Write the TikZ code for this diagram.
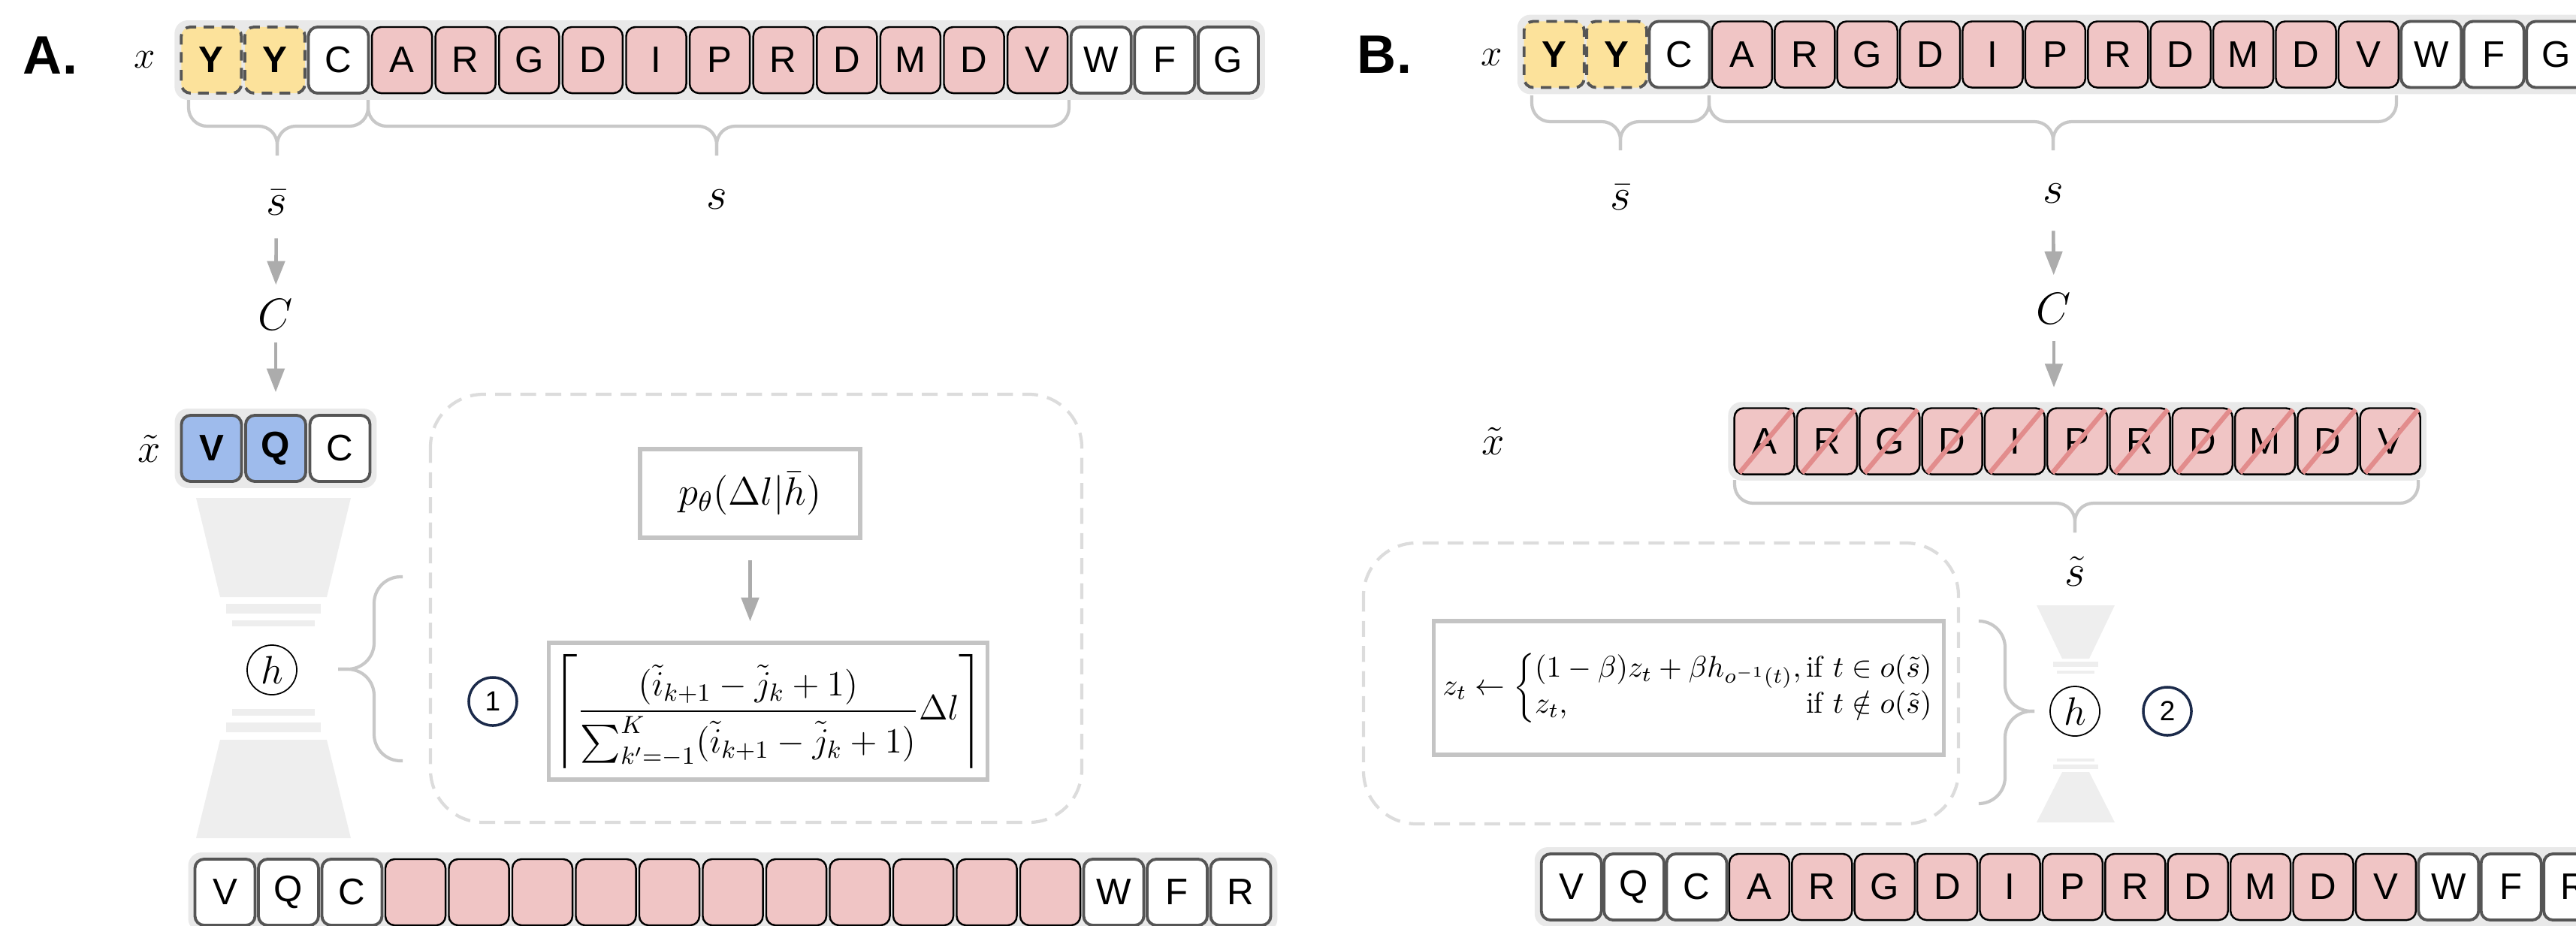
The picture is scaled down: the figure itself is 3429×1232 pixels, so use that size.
\RequirePackage{fix-cm}
\documentclass[tikz,border=0pt]{standalone}
\usepackage{amsmath}
\usepackage{fontspec}
\newfontfamily\tokfont{Liberation Sans}
\usetikzlibrary{arrows.meta,fit,backgrounds,calc}

\definecolor{pinkf}{RGB}{240,197,197}
\definecolor{yellowf}{RGB}{252,226,155}
\definecolor{bluef}{RGB}{158,187,236}
\definecolor{rowgray}{RGB}{233,233,233}
\definecolor{hggray}{RGB}{238,238,238}
\definecolor{bracegray}{RGB}{200,200,200}
\definecolor{arrgray}{RGB}{172,172,172}
\definecolor{dashgray}{RGB}{220,220,220}
\definecolor{fgray}{RGB}{196,196,196}
\definecolor{boxgray}{RGB}{85,85,85}
\definecolor{navy}{RGB}{27,42,74}
\definecolor{slashred}{RGB}{226,140,140}

% horizontal brace opening upwards: xL xR xTip yTop yMid yTip
\newcommand{\bracedown}[6]{%
  \draw[brc] (#1,#4) -- (#1,#5) -- (#3,#5) -- (#3,#6);
  \draw[brc] (#2,#4) -- (#2,#5) -- (#3,#5) -- (#3,#6);}
% vertical brace: xEnds xSpine xTip yTop yBottom yTip
\newcommand{\braceside}[6]{%
  \draw[brcv] (#1,#4) -- (#2,#4) -- (#2,#6) -- (#3,#6);
  \draw[brcv] (#1,#5) -- (#2,#5) -- (#2,#6) -- (#3,#6);}

\begin{document}
\begin{tikzpicture}[x=0.01cm, y=-0.01cm,
  tok/.style={rectangle, rounded corners=3.5pt, minimum width=0.8cm, minimum height=0.88cm, inner sep=0pt, font=\tokfont\fontsize{14}{16}\selectfont},
  wht/.style={tok, draw=boxgray, line width=1.1pt, fill=white},
  pnk/.style={tok, draw=black, line width=0.7pt, fill=pinkf},
  yel/.style={tok, draw=boxgray, line width=1.1pt, dash pattern=on 4pt off 2.8pt, fill=yellowf, font=\tokfont\bfseries\fontsize{14}{16}\selectfont},
  blu/.style={tok, draw=boxgray, line width=1.1pt, fill=bluef, font=\tokfont\bfseries\fontsize{14}{16}\selectfont},
  rowbg/.style={fill=rowgray, rounded corners=5pt, inner sep=0.07cm},
  lbl/.style={inner sep=0pt, font=\fontsize{17}{20}\selectfont},
  xlbl/.style={inner sep=0pt, font=\fontsize{14.5}{17}\selectfont},
  panel/.style={inner sep=0pt, anchor=base, font=\tokfont\bfseries\fontsize{20.5}{24}\selectfont},
  brc/.style={draw=bracegray, line width=1.2pt, rounded corners=7pt},
  brcv/.style={draw=bracegray, line width=1.2pt, rounded corners=10pt},
  arr/.style={draw=arrgray, line width=1.3pt, -{Triangle[length=9pt,width=6.6pt]}},
  dbox/.style={draw=dashgray, line width=1.2pt, dash pattern=on 6pt off 3.5pt, rounded corners=20pt},
  fmbox/.style={draw=fgray, line width=1.5pt, inner sep=0pt, fill=white},
  hcirc/.style={circle, draw=black, line width=0.5pt, fill=white, minimum size=0.66cm, inner sep=0pt, font=\fontsize{15}{18}\selectfont},
  numc/.style={circle, draw=navy, line width=1pt, minimum size=0.64cm, inner sep=0pt, font=\tokfont\fontsize{10.5}{12}\selectfont},
  strike/.style={draw=slashred, line width=1.8pt}
]
\useasboundingbox (0,0) rectangle (3429,1232);
\clip (0,0) rectangle (3429,1232);

% ---------------- panel A ----------------
\node[panel] (lblA) at (67,98) {A.};
\node[xlbl] (xA) at (193,80) {$x$};

% input sequence
\foreach \sty/\ltr [count=\i from 0] in {yel/Y,yel/Y,wht/C,pnk/A,pnk/R,pnk/G,pnk/D,pnk/I,pnk/P,pnk/R,pnk/D,pnk/M,pnk/D,pnk/V,wht/W,wht/F,wht/G}
  \node[\sty] (a\i) at ({281.3+84.6*\i},80) {\ltr};
\begin{scope}[on background layer]
  \node[rowbg, fit=(a0)(a16)] (arow) {};
\end{scope}

\bracedown{251}{490}{369}{133}{168}{207}
\bracedown{490}{1423}{954}{133}{168}{207}
\node[lbl] (sbA) at (368,270) {$\bar{s}$};
\node[lbl] (sA) at (954,266) {$s$};
\node[lbl] (CA) at (367,419) {$C$};

% generated segment
\node[xlbl, font=\fontsize{15.5}{18}\selectfont] (xtA) at (199,597) {$\tilde{x}$};
\foreach \sty/\ltr [count=\i from 0] in {blu/V,blu/Q,wht/C}
  \node[\sty] (ta\i) at ({281.5+85.5*\i},597) {\ltr};
\begin{scope}[on background layer]
  \node[rowbg, fit=(ta0)(ta2)] (tarow) {};
\end{scope}

\draw[arr, shorten <=8.5pt, shorten >=5.3pt] (sbA) -- (CA);
\draw[arr, shorten <=4.5pt, shorten >=6pt] (CA) -- (CA |- tarow.north);

% encoder / decoder
\fill[hggray] (261,663) -- (467,663) -- (435,795) -- (293,795) -- cycle;
\fill[hggray] (301,804) rectangle (427,817);
\fill[hggray] (309,826) rectangle (419,834);
\fill[hggray] (309,944) rectangle (419,953);
\fill[hggray] (301,962) rectangle (427,975);
\fill[hggray] (293,985) -- (435,985) -- (467,1116) -- (261,1116) -- cycle;
\node[hcirc] (hA) at (362,892) {$h$};

\braceside{536}{498}{450}{768}{1013}{891}

% length sampling
\draw[dbox] (573,525) rectangle (1440,1095);
\node[fmbox, minimum width=2.93cm, minimum height=1.18cm, font=\fontsize{15}{18}\selectfont] (pbox) at (998.5,657) {$p_\theta(\Delta l|\bar{h})$};
\node[fmbox, minimum width=5.83cm, minimum height=1.82cm, font=\fontsize{13.4}{16}\selectfont] (fA) at (1022.5,947)
  {$\left\lceil\dfrac{(\tilde{i}_{k+1}-\tilde{j}_k+1)}{\sum_{k'=-1}^{K}(\tilde{i}_{k+1}-\tilde{j}_k+1)}\Delta l\right\rceil$};
\draw[arr, shorten <=7.7pt, shorten >=7.4pt] (pbox.south) -- (pbox.south |- fA.north);
\node[numc] (n1) at (656,934) {1};

% output sequence
\foreach \sty/\ltr [count=\i from 0] in {wht/V,wht/Q,wht/C,pnk/{},pnk/{},pnk/{},pnk/{},pnk/{},pnk/{},pnk/{},pnk/{},pnk/{},pnk/{},pnk/{},wht/W,wht/F,wht/R}
  \node[\sty] (oa\i) at ({299.5+84.5*\i},1188) {\ltr};
\begin{scope}[on background layer]
  \node[rowbg, fit=(oa0)(oa16)] (oarow) {};
\end{scope}

% ---------------- panel B ----------------
\node[panel] (lblB) at (1843,97) {B.};
\node[xlbl] (xB) at (1986,77) {$x$};

\foreach \sty/\ltr [count=\i from 0] in {yel/Y,yel/Y,wht/C,pnk/A,pnk/R,pnk/G,pnk/D,pnk/I,pnk/P,pnk/R,pnk/D,pnk/M,pnk/D,pnk/V,wht/W,wht/F,wht/G}
  \node[\sty] (b\i) at ({2068.7+83.4*\i},72.5) {\ltr};
\begin{scope}[on background layer]
  \node[rowbg, fit=(b0)(b16)] (brow) {};
\end{scope}

\bracedown{2039}{2275}{2157}{127}{162}{200}
\bracedown{2275}{3190}{2733}{127}{162}{200}
\node[lbl] (sbB) at (2157,263) {$\bar{s}$};
\node[lbl] (sB) at (2733,258) {$s$};
\node[lbl] (CB) at (2734,411) {$C$};

% masked segment
\node[xlbl, font=\fontsize{15.5}{18}\selectfont] (xtB) at (1988,587) {$\tilde{x}$};
\foreach \ltr [count=\i from 0] in {A,R,G,D,I,P,R,D,M,D,V}
  \node[pnk] (tb\i) at ({2348.7+83.3*\i},587.5) {\ltr};
\foreach \i in {0,...,10}
  \draw[strike] ($(tb\i.south west)+(8,-3)$) -- ($(tb\i.north east)+(-4,3)$);
\begin{scope}[on background layer]
  \node[rowbg, fit=(tb0)(tb10)] (tbrow) {};
\end{scope}

\draw[arr, shorten <=10.2pt, shorten >=6.7pt] (sB) -- (CB);
\draw[arr, shorten <=6.1pt, shorten >=5.3pt] (CB) -- (CB |- tbrow.north);

\bracedown{2309}{3219}{2762}{639}{670}{709}
\node[lbl] (stB) at (2762,761) {$\tilde{s}$};

% encoder / decoder
\fill[hggray] (2711,806) -- (2815,806) -- (2781,877) -- (2745,877) -- cycle;
\fill[hggray] (2733,881) rectangle (2793,888);
\fill[hggray] (2738,893) rectangle (2788,897);
\fill[hggray] (2738,1010) rectangle (2788,1014);
\fill[hggray] (2733,1018) rectangle (2793,1024);
\fill[hggray] (2745,1028) -- (2781,1028) -- (2815,1095) -- (2711,1095) -- cycle;
\node[hcirc] (hB) at (2762,947) {$h$};
\node[numc] (n2) at (2885,947) {2};

\braceside{2636}{2669}{2708}{827}{1070}{947}

% latent update
\draw[dbox] (1815,723) rectangle (2607,1097);
\node[fmbox, minimum width=6.78cm, minimum height=1.78cm, font=\fontsize{11.3}{13.5}\selectfont] (fB) at (2248,916)
  {$z_t\leftarrow\left\{\begin{array}{@{}l@{\,}l@{}}
     (1-\beta)z_t+\beta h_{o^{-1}(t)}, & \text{if } t\in o(\tilde{s})\\
     z_t, & \text{if } t\notin o(\tilde{s})
   \end{array}\right.$};

% output sequence
\foreach \sty/\ltr [count=\i from 0] in {wht/V,wht/Q,wht/C,pnk/A,pnk/R,pnk/G,pnk/D,pnk/I,pnk/P,pnk/R,pnk/D,pnk/M,pnk/D,pnk/V,wht/W,wht/F,wht/R}
  \node[\sty] (ob\i) at ({2091.7+83.4*\i},1181) {\ltr};
\begin{scope}[on background layer]
  \node[rowbg, fit=(ob0)(ob16)] (obrow) {};
\end{scope}
\end{tikzpicture}
\end{document}
